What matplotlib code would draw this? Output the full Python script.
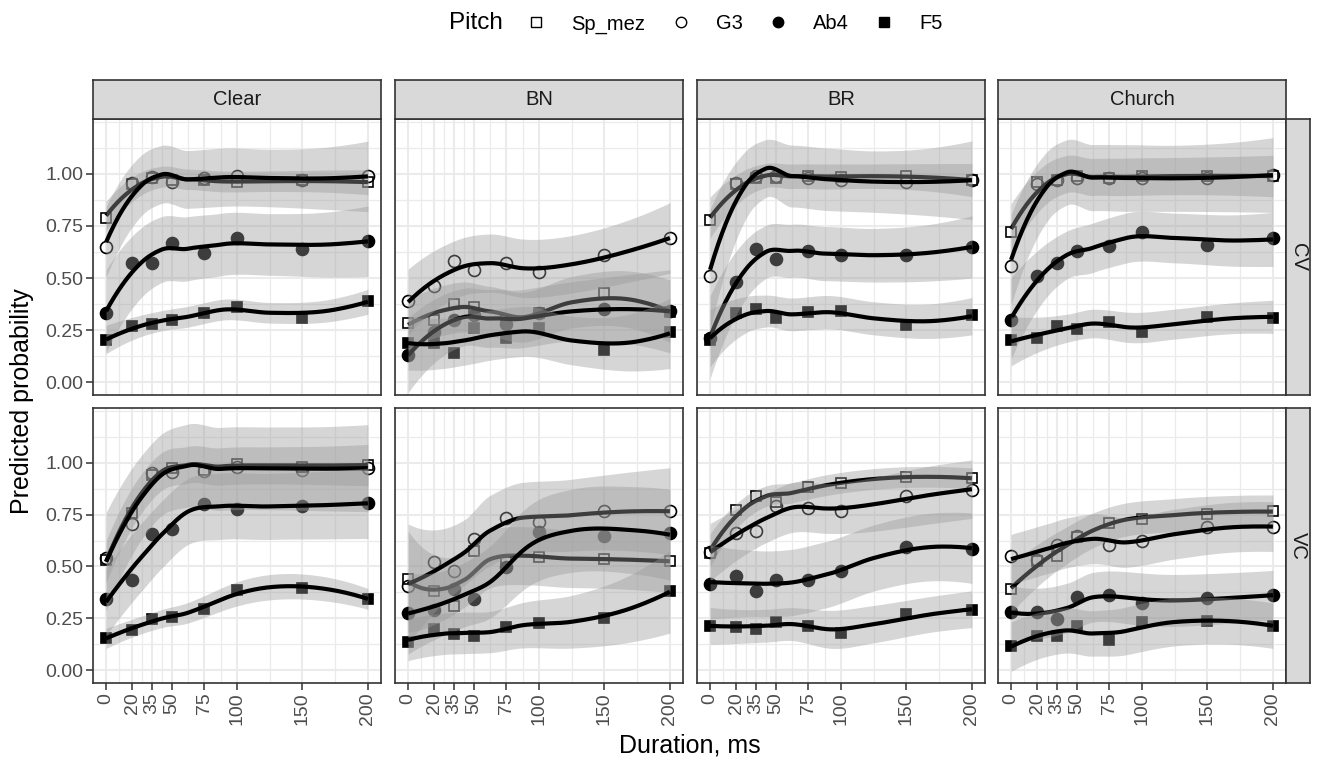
import numpy as np
import matplotlib.pyplot as plt
from matplotlib.lines import Line2D

plt.rcParams['font.family'] = ['Liberation Sans', 'DejaVu Sans']

# --- data ------------------------------------------------------------------
durations = [0, 20, 35, 50, 75, 100, 150, 200]
pitches = ["Sp_mez", "G3", "Ab4", "F5"]
rooms = ["Clear", "BN", "BR", "Church"]
orders = ["CV", "VC"]

# mean predicted probability per duration
clear_cv = {"Sp_mez": [0.79, 0.95, 0.98, 0.97, 0.97, 0.96, 0.97, 0.96],
            "G3":     [0.65, 0.955, 0.985, 0.96, 0.98, 0.99, 0.97, 0.99],
            "Ab4":    [0.33, 0.57, 0.57, 0.67, 0.62, 0.69, 0.64, 0.68],
            "F5":     [0.20, 0.27, 0.28, 0.30, 0.33, 0.36, 0.31, 0.39]}
bn_cv = {"Sp_mez": [0.285, 0.30, 0.375, 0.36, 0.30, 0.33, 0.43, 0.335],
         "G3":     [0.39, 0.46, 0.58, 0.54, 0.57, 0.53, 0.61, 0.69],
         "Ab4":    [0.13, 0.24, 0.30, 0.32, 0.28, 0.33, 0.35, 0.34],
         "F5":     [0.19, 0.19, 0.14, 0.26, 0.21, 0.26, 0.155, 0.24]}
br_cv = {"Sp_mez": [0.78, 0.95, 0.98, 0.98, 0.99, 0.985, 0.99, 0.97],
         "G3":     [0.51, 0.955, 0.99, 0.99, 0.98, 0.97, 0.96, 0.97],
         "Ab4":    [0.21, 0.48, 0.64, 0.59, 0.63, 0.61, 0.61, 0.65],
         "F5":     [0.20, 0.33, 0.35, 0.31, 0.335, 0.34, 0.275, 0.32]}
church_cv = {"Sp_mez": [0.72, 0.96, 0.97, 0.99, 0.98, 0.99, 0.99, 0.99],
             "G3":     [0.56, 0.95, 0.97, 0.98, 0.98, 0.98, 0.98, 0.995],
             "Ab4":    [0.30, 0.51, 0.57, 0.63, 0.655, 0.72, 0.66, 0.69],
             "F5":     [0.20, 0.21, 0.27, 0.255, 0.29, 0.24, 0.315, 0.31]}
clear_vc = {"Sp_mez": [0.53, 0.76, 0.94, 0.975, 0.965, 0.995, 0.98, 0.99],
            "G3":     [0.54, 0.705, 0.95, 0.955, 0.96, 0.98, 0.965, 0.975],
            "Ab4":    [0.345, 0.435, 0.655, 0.68, 0.80, 0.775, 0.79, 0.805],
            "F5":     [0.155, 0.195, 0.245, 0.255, 0.295, 0.385, 0.395, 0.345]}
bn_vc = {"Sp_mez": [0.44, 0.38, 0.31, 0.575, 0.525, 0.545, 0.535, 0.525],
         "G3":     [0.405, 0.52, 0.48, 0.63, 0.735, 0.715, 0.765, 0.765],
         "Ab4":    [0.275, 0.29, 0.39, 0.345, 0.495, 0.665, 0.645, 0.66],
         "F5":     [0.135, 0.20, 0.175, 0.165, 0.21, 0.225, 0.25, 0.38]}
br_vc = {"Sp_mez": [0.565, 0.77, 0.84, 0.81, 0.885, 0.90, 0.93, 0.925],
         "G3":     [0.57, 0.66, 0.67, 0.79, 0.78, 0.765, 0.84, 0.87],
         "Ab4":    [0.415, 0.455, 0.38, 0.435, 0.435, 0.48, 0.595, 0.585],
         "F5":     [0.215, 0.21, 0.20, 0.23, 0.215, 0.18, 0.27, 0.29]}
church_vc = {"Sp_mez": [0.39, 0.525, 0.55, 0.64, 0.71, 0.73, 0.755, 0.765],
             "G3":     [0.55, 0.53, 0.605, 0.645, 0.605, 0.625, 0.69, 0.69],
             "Ab4":    [0.28, 0.28, 0.245, 0.355, 0.36, 0.325, 0.35, 0.36],
             "F5":     [0.115, 0.165, 0.165, 0.215, 0.145, 0.23, 0.235, 0.215]}

# half-width of the confidence ribbon per duration
clear_cv_ci = {"Sp_mez": [0.07, 0.06, 0.05, 0.05, 0.05, 0.05, 0.05, 0.06],
               "G3":     [0.17, 0.15, 0.14, 0.14, 0.14, 0.14, 0.14, 0.17],
               "Ab4":    [0.20, 0.17, 0.16, 0.16, 0.15, 0.15, 0.15, 0.17],
               "F5":     [0.07, 0.05, 0.05, 0.05, 0.05, 0.05, 0.05, 0.06]}
bn_cv_ci = {"Sp_mez": [0.12, 0.12, 0.12, 0.12, 0.12, 0.12, 0.13, 0.15],
            "G3":     [0.16, 0.14, 0.14, 0.14, 0.14, 0.14, 0.14, 0.17],
            "Ab4":    [0.18, 0.15, 0.14, 0.14, 0.14, 0.14, 0.15, 0.20],
            "F5":     [0.13, 0.12, 0.12, 0.12, 0.12, 0.12, 0.12, 0.17]}
br_cv_ci = {"Sp_mez": [0.10, 0.07, 0.06, 0.06, 0.06, 0.06, 0.06, 0.08],
            "G3":     [0.30, 0.16, 0.15, 0.15, 0.15, 0.15, 0.15, 0.19],
            "Ab4":    [0.20, 0.15, 0.13, 0.13, 0.13, 0.13, 0.13, 0.15],
            "F5":     [0.14, 0.09, 0.08, 0.08, 0.08, 0.08, 0.08, 0.09]}
church_cv_ci = {"Sp_mez": [0.12, 0.10, 0.09, 0.09, 0.09, 0.09, 0.09, 0.10],
                "G3":     [0.22, 0.17, 0.16, 0.16, 0.16, 0.16, 0.16, 0.18],
                "Ab4":    [0.20, 0.13, 0.12, 0.12, 0.12, 0.12, 0.12, 0.13],
                "F5":     [0.12, 0.08, 0.07, 0.07, 0.07, 0.075, 0.07, 0.08]}
clear_vc_ci = {"Sp_mez": [0.10, 0.10, 0.09, 0.09, 0.09, 0.09, 0.09, 0.10],
               "G3":     [0.24, 0.20, 0.20, 0.20, 0.20, 0.20, 0.20, 0.21],
               "Ab4":    [0.16, 0.17, 0.16, 0.16, 0.16, 0.16, 0.16, 0.17],
               "F5":     [0.05, 0.04, 0.04, 0.05, 0.05, 0.06, 0.06, 0.05]}
bn_vc_ci = {"Sp_mez": [0.25, 0.15, 0.14, 0.14, 0.14, 0.14, 0.14, 0.15],
            "G3":     [0.30, 0.17, 0.17, 0.17, 0.17, 0.17, 0.18, 0.21],
            "Ab4":    [0.20, 0.15, 0.15, 0.17, 0.18, 0.20, 0.20, 0.22],
            "F5":     [0.10, 0.10, 0.10, 0.10, 0.10, 0.12, 0.14, 0.20]}
br_vc_ci = {"Sp_mez": [0.08, 0.06, 0.05, 0.05, 0.05, 0.05, 0.05, 0.05],
            "G3":     [0.14, 0.12, 0.12, 0.12, 0.12, 0.12, 0.14, 0.14],
            "Ab4":    [0.18, 0.16, 0.16, 0.16, 0.16, 0.16, 0.16, 0.17],
            "F5":     [0.09, 0.08, 0.08, 0.08, 0.08, 0.10, 0.08, 0.09]}
church_vc_ci = {"Sp_mez": [0.12, 0.10, 0.09, 0.09, 0.08, 0.08, 0.08, 0.08],
                "G3":     [0.12, 0.12, 0.12, 0.12, 0.12, 0.12, 0.12, 0.12],
                "Ab4":    [0.13, 0.12, 0.12, 0.12, 0.12, 0.13, 0.12, 0.12],
                "F5":     [0.12, 0.11, 0.11, 0.11, 0.11, 0.12, 0.11, 0.11]}

panel_data = {("Clear", "CV"): (clear_cv, clear_cv_ci), ("BN", "CV"): (bn_cv, bn_cv_ci),
              ("BR", "CV"): (br_cv, br_cv_ci), ("Church", "CV"): (church_cv, church_cv_ci),
              ("Clear", "VC"): (clear_vc, clear_vc_ci), ("BN", "VC"): (bn_vc, bn_vc_ci),
              ("BR", "VC"): (br_vc, br_vc_ci), ("Church", "VC"): (church_vc, church_vc_ci)}

# --- styling ------------------------------------------------------------------
point_style = {"Sp_mez": dict(marker="s", mfc="none", ms=7.6),
               "G3":     dict(marker="o", mfc="none", ms=8.6),
               "Ab4":    dict(marker="o", mfc="black", ms=8.6),
               "F5":     dict(marker="s", mfc="black", ms=7.6)}


def local_fit(x, y, x0, q):
    # weighted local quadratic, returns value and slope at x0
    d = np.abs(x - x0)
    h = np.sort(d)[q - 1] * 1.02
    w = np.clip(1 - (d / h) ** 3, 0, None) ** 3
    X = np.column_stack([np.ones(len(x)), x - x0, (x - x0) ** 2])
    sw = np.sqrt(w)
    beta = np.linalg.lstsq(X * sw[:, None], y * sw, rcond=None)[0]
    return beta[0], beta[1]


def loess(x, y, grid, span=0.75):
    # loess evaluated on kd-tree style vertices, blended with cubic Hermite
    x = np.asarray(x, float)
    y = np.asarray(y, float)
    q = max(4, int(np.floor(len(x) * span)))
    xv = np.sort(x)
    verts = np.concatenate([[xv[0] - 1], (xv[:-1] + xv[1:]) / 2, [xv[-1] + 1]])
    vals, slopes = zip(*[local_fit(x, y, v, q) for v in verts])
    vals, slopes = np.array(vals), np.array(slopes)
    idx = np.clip(np.searchsorted(verts, grid) - 1, 0, len(verts) - 2)
    x0, x1 = verts[idx], verts[idx + 1]
    hgap = x1 - x0
    t = (grid - x0) / hgap
    h00 = 2 * t ** 3 - 3 * t ** 2 + 1
    h10 = t ** 3 - 2 * t ** 2 + t
    h01 = -2 * t ** 3 + 3 * t ** 2
    h11 = t ** 3 - t ** 2
    return (h00 * vals[idx] + h10 * hgap * slopes[idx]
            + h01 * vals[idx + 1] + h11 * hgap * slopes[idx + 1])


W, H = 1318, 758
fig = plt.figure(figsize=(W / 100, H / 100), dpi=100)

panel_left = [93, 395, 697, 998]
panel_w = 288
rows = [(119, 395), (408, 683)]
strip_top = 80
right_strip = (1286, 1310)

grid_col = "#EBEBEB"
edge_col = "#333333"
xs = np.linspace(0, 200, 201)
minor_x = [-10, 10, 27.5, 42.5, 62.5, 87.5, 125, 175, 210]
minor_y = [0.125, 0.375, 0.625, 0.875, 1.125, 1.25]


def add_box(x0, y0, x1, y1):
    a = fig.add_axes([x0 / W, 1 - y1 / H, (x1 - x0) / W, (y1 - y0) / H])
    a.set_facecolor("#D9D9D9")
    a.set_xticks([])
    a.set_yticks([])
    for s in a.spines.values():
        s.set_color(edge_col)
        s.set_linewidth(1.2)
    return a


for r, order in enumerate(orders):
    top, bot = rows[r]
    for c, room in enumerate(rooms):
        left = panel_left[c]
        ax = fig.add_axes([left / W, 1 - bot / H, panel_w / W, (bot - top) / H])
        means, ci = panel_data[(room, order)]

        # points first, smooths drawn on top (as in the original)
        for p in pitches:
            ax.plot(durations, means[p], ls="none", mec="black", mew=1.2,
                    zorder=2, **point_style[p])
        for i, p in enumerate(pitches):
            fit = loess(durations, means[p], xs)
            band = loess(durations, ci[p], xs)
            ax.fill_between(xs, fit - band, fit + band, color="#999999",
                            alpha=0.4, lw=0, zorder=3 + 2 * i)
            ax.plot(xs, fit, color="black", lw=3.0, zorder=4 + 2 * i,
                    solid_capstyle="butt")

        ax.set_xlim(-10, 210)
        ax.set_ylim(-0.062, 1.264)
        ax.set_xticks(durations)
        ax.set_xticks(minor_x, minor=True)
        ax.set_yticks([0, 0.25, 0.5, 0.75, 1.0])
        ax.set_yticks(minor_y, minor=True)
        ax.set_axisbelow(True)
        ax.grid(which="major", color=grid_col, lw=1.5)
        ax.grid(which="minor", color=grid_col, lw=0.9)
        ax.tick_params(which="minor", length=0)
        ax.tick_params(which="major", length=5, width=1.1, color=edge_col,
                       labelsize=14, labelcolor="#4D4D4D", pad=2)
        for s in ax.spines.values():
            s.set_color(edge_col)
            s.set_linewidth(1.2)

        if r == len(orders) - 1:
            ax.set_xticklabels([str(d) for d in durations], rotation=90)
        else:
            ax.tick_params(axis="x", length=0, labelbottom=False)
        if c == 0:
            ax.set_yticklabels(["0.00", "0.25", "0.50", "0.75", "1.00"])
        else:
            ax.tick_params(axis="y", length=0, labelleft=False)

        if r == 0:
            sa = add_box(left, strip_top, left + panel_w, top)
            sa.text(0.5, 0.5, room, ha="center", va="center", fontsize=14.5,
                    color="#1A1A1A", transform=sa.transAxes)
        if c == len(rooms) - 1:
            sa = add_box(right_strip[0], top, right_strip[1], bot)
            sa.text(0.5, 0.5, order, ha="center", va="center", fontsize=14.5,
                    color="#1A1A1A", rotation=-90, transform=sa.transAxes)

fig.text((93 + 1286) / 2 / W, 1 - 745 / H, "Duration, ms", ha="center",
         va="center", fontsize=18)
fig.text(22 / W, 1 - 401 / H, "Predicted probability", ha="center",
         va="center", rotation=90, fontsize=18)

# legend on top
fig.text(449 / W, 1 - 23 / H, "Pitch", ha="left", va="center", fontsize=17.5)
handles = [Line2D([], [], ls="none", mec="black", mew=1.0,
                  marker=point_style[p]["marker"], mfc=point_style[p]["mfc"],
                  ms=6.5 if point_style[p]["marker"] == "s" else 7.5)
           for p in pitches]
fig.legend(handles, pitches, ncol=4, loc="center left",
           bbox_to_anchor=(526 / W, 1 - 24 / H), frameon=False, fontsize=14.5,
           handlelength=1.0, handletextpad=1.25, columnspacing=1.25,
           borderpad=0, borderaxespad=0)

fig.savefig("out.png", dpi=100)
